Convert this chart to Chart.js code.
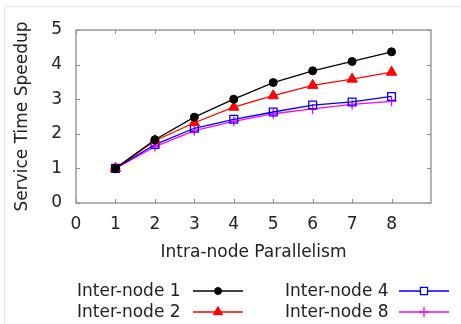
<!DOCTYPE html>
<html>
<head>
<meta charset="utf-8">
<script src="https://cdn.jsdelivr.net/npm/chart.js@4"></script>
<style>
  html, body { margin: 0; padding: 0; background: #fff; }
  #wrap { width: 461px; height: 324px; }
</style>
</head>
<body>
<div id="wrap"><canvas id="speedupChart" width="461" height="324"></canvas></div>
<script>
// intra-node parallelism (x) and speedup per inter-node setting
const parallelism = [1, 2, 3, 4, 5, 6, 7, 8];
const inter1 = [1.0, 1.83, 2.48, 3.0, 3.48, 3.82, 4.09, 4.37];
const inter2 = [1.0, 1.8, 2.32, 2.77, 3.1, 3.4, 3.58, 3.78];
const inter4 = [1.0, 1.69, 2.16, 2.42, 2.63, 2.83, 2.92, 3.08];
const inter8 = [1.0, 1.63, 2.09, 2.36, 2.58, 2.72, 2.85, 2.94];
const xTicks = [0, 1, 2, 3, 4, 5, 6, 7, 8];
const yTicks = [0, 1, 2, 3, 4, 5];

const FONT = 'DejaVu Sans';

function pts(vals) {
    return vals.map((v, i) => ({ x: parallelism[i], y: v }));
}

// gnuplot style frame with inward ticks on all four sides
const framePlugin = {
    id: 'frame',
    beforeDraw(chart) {
        const ctx = chart.ctx;
        ctx.save();
        ctx.strokeStyle = '#e6e6e6';
        ctx.lineWidth = 1;
        ctx.beginPath();
        ctx.moveTo(4.5, 324); ctx.lineTo(4.5, 6.5); ctx.lineTo(461, 6.5);
        ctx.stroke();
        ctx.restore();
    },
    afterDraw(chart) {
        const ctx = chart.ctx;
        const a = chart.chartArea;
        const xs = chart.scales.x, ys = chart.scales.y;
        ctx.save();
        ctx.strokeStyle = '#8c8c8c';
        ctx.lineWidth = 1.3;
        ctx.strokeRect(a.left, a.top, a.right - a.left, a.bottom - a.top);
        ctx.lineWidth = 1;
        ctx.beginPath();
        xTicks.forEach(v => {
            const px = Math.round(xs.getPixelForValue(v)) + 0.5;
            ctx.moveTo(px, a.bottom); ctx.lineTo(px, a.bottom - 4);
            ctx.moveTo(px, a.top); ctx.lineTo(px, a.top + 4);
        });
        yTicks.forEach(v => {
            const py = Math.round(ys.getPixelForValue(v)) + 0.5;
            ctx.moveTo(a.left, py); ctx.lineTo(a.left + 4, py);
            ctx.moveTo(a.right, py); ctx.lineTo(a.right - 4, py);
        });
        ctx.stroke();
        ctx.restore();
    }
};

// legend: label text first, then line sample with marker
const legendPlugin = {
    id: 'gpLegend',
    afterDraw(chart) {
        const ctx = chart.ctx;
        const cols = [{ tx: 77, lx: 193 }, { tx: 285, lx: 399 }];
        const rows = [291, 312];
        ctx.save();
        ctx.font = '17px ' + FONT;
        ctx.textBaseline = 'middle';
        chart.data.datasets.forEach((ds, i) => {
            const c = cols[Math.floor(i / 2)];
            const y = rows[i % 2];
            ctx.fillStyle = '#222';
            ctx.textAlign = 'left';
            ctx.fillText(ds.label, c.tx, y + 1);
            ctx.strokeStyle = ds.borderColor;
            ctx.lineWidth = ds.borderWidth;
            ctx.beginPath();
            ctx.moveTo(c.lx, y); ctx.lineTo(c.lx + 50, y);
            ctx.stroke();
            ctx.fillStyle = ds.legendFill;
            ctx.strokeStyle = ds.borderColor;
            ctx.lineWidth = ds.pointBorderWidth;
            Chart.helpers.drawPoint(ctx, {
                pointStyle: ds.pointStyle,
                radius: ds.legendRadius,
                borderWidth: ds.pointBorderWidth,
                rotation: 0
            }, c.lx + 25, y);
        });
        ctx.restore();
    }
};

const ctx = document.getElementById('speedupChart').getContext('2d');
const speedupChart = new Chart(ctx, {
    type: 'line',
    data: {
        datasets: [{
            label: 'Inter-node 1',
            data: pts(inter1),
            borderColor: '#000000',
            backgroundColor: '#000000',
            pointBackgroundColor: '#000000',
            legendFill: '#000000',
            pointStyle: 'circle',
            pointRadius: 4,
            legendRadius: 3.5,
            pointBorderWidth: 1,
            borderWidth: 1.3
        }, {
            label: 'Inter-node 2',
            data: pts(inter2),
            borderColor: '#ff0000',
            backgroundColor: '#ff0000',
            pointBackgroundColor: '#ff0000',
            legendFill: '#ff0000',
            pointStyle: 'triangle',
            pointRadius: 6,
            legendRadius: 5.5,
            pointBorderWidth: 1,
            borderWidth: 1.3
        }, {
            label: 'Inter-node 4',
            data: pts(inter4),
            borderColor: '#0000ff',
            backgroundColor: '#0000ff',
            pointBackgroundColor: 'rgba(255,255,255,0)',
            legendFill: '#ffffff',
            pointStyle: 'rect',
            pointRadius: 5.5,
            legendRadius: 5,
            pointBorderWidth: 1.3,
            borderWidth: 1.3
        }, {
            label: 'Inter-node 8',
            data: pts(inter8),
            borderColor: '#ff00ff',
            backgroundColor: '#ff00ff',
            pointBackgroundColor: '#ff00ff',
            legendFill: '#ff00ff',
            pointStyle: 'cross',
            pointRadius: 5,
            legendRadius: 5,
            pointBorderWidth: 1.3,
            borderWidth: 1.3
        }]
    },
    options: {
        responsive: false,
        animation: false,
        layout: { padding: { left: 0, top: 30, right: 30, bottom: 57 } },
        plugins: {
            legend: { display: false },
            tooltip: { enabled: false }
        },
        scales: {
            x: {
                type: 'linear',
                min: 0,
                max: 9,
                afterFit(scale) { scale.height = 64; },
                afterBuildTicks(scale) { scale.ticks = xTicks.map(v => ({ value: v })); },
                grid: { display: false, drawTicks: false },
                border: { display: false },
                ticks: { padding: 11, color: '#222', font: { family: FONT, size: 17 } },
                title: {
                    display: true,
                    text: 'Intra-node Parallelism',
                    color: '#222',
                    font: { family: FONT, size: 17 },
                    padding: { top: 4, bottom: 4 }
                }
            },
            y: {
                min: 0,
                max: 5,
                afterFit(scale) { scale.width = 76; },
                afterBuildTicks(scale) { scale.ticks = yTicks.map(v => ({ value: v })); },
                grid: { display: false, drawTicks: false },
                border: { display: false },
                ticks: { padding: 14, color: '#222', font: { family: FONT, size: 17 } },
                title: {
                    display: true,
                    text: 'Service Time Speedup',
                    color: '#222',
                    font: { family: FONT, size: 17 },
                    padding: { top: 12, bottom: 4 }
                }
            }
        }
    },
    plugins: [framePlugin, legendPlugin]
});
</script>
</body>
</html>
